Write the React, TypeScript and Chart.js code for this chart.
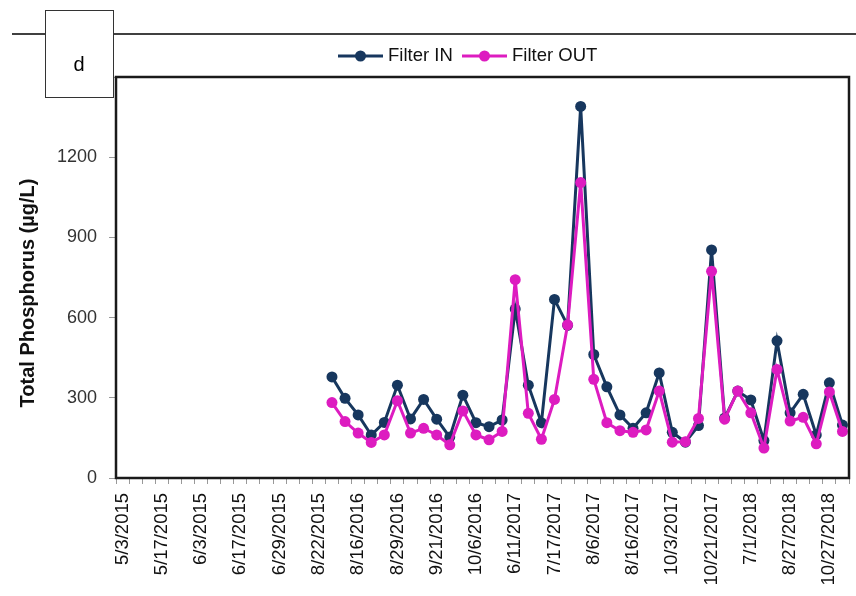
import React, { useEffect, useRef } from "react";
import { Chart, registerables } from "chart.js";

Chart.register(...registerables);

// Visible date tick labels (every 3rd category)
const dateLabels = [
  "5/3/2015", "5/17/2015", "6/3/2015", "6/17/2015", "6/29/2015", "8/22/2015",
  "8/16/2016", "8/29/2016", "9/21/2016", "10/6/2016", "6/11/2017", "7/17/2017",
  "8/6/2017", "8/16/2017", "10/3/2017", "10/21/2017", "7/1/2018", "8/27/2018",
  "10/27/2018",
];
const categoryCount = 56;
const labelEvery = 3;
const leadingEmpty = 16;

// Total phosphorus (µg/L)
const filterIn = [
  378, 298, 236, 161, 208, 347, 221, 294, 220, 153,
  310, 207, 192, 217, 632, 347, 207, 668, 571, 1390,
  462, 341, 236, 186, 244, 393, 171, 134, 196, 853,
  224, 325, 292, 140, 513, 244, 313, 161, 356, 198,
];
const filterOut = [
  282, 211, 168, 133, 161, 289, 168, 186, 161, 124,
  251, 161, 143, 174, 742, 242, 145, 294, 573, 1105,
  369, 207, 177, 171, 180, 325, 134, 136, 223, 773,
  220, 325, 244, 112, 406, 213, 227, 128, 322, 174,
];

const yMax = 1500;
const yStep = 300;
const yTitle = "Total Phosphorus (µg/L)";
const seriesNames = ["Filter IN", "Filter OUT"];
const seriesColors = ["#17375e", "#dd1cc0"];

const FONT = "'Liberation Sans', Arial, sans-serif";

export default function App() {
  const ref = useRef<HTMLCanvasElement>(null);

  useEffect(() => {
    const canvas = ref.current!;
    const categories = Array.from({ length: categoryCount }, (_, i) =>
      i % labelEvery === 0 ? dateLabels[i / labelEvery] ?? "" : ""
    );
    const pad = (arr: number[]) => {
      const out: (number | null)[] = Array(categoryCount).fill(null);
      arr.forEach((v, i) => (out[leadingEmpty + i] = v));
      return out;
    };

    const decor = {
      id: "decor",
      afterDraw(chart: any) {
        const ctx = chart.ctx as CanvasRenderingContext2D;
        const a = chart.chartArea;
        ctx.save();
        // plot border
        ctx.strokeStyle = "#1a1a1a";
        ctx.lineWidth = 2.5;
        ctx.strokeRect(a.left, a.top, a.right - a.left, a.bottom - a.top);
        // top rule line
        ctx.lineWidth = 1.5;
        ctx.strokeStyle = "#000";
        ctx.beginPath();
        ctx.moveTo(12, 34);
        ctx.lineTo(856, 34);
        ctx.stroke();
        // "d" box
        ctx.fillStyle = "#fff";
        ctx.fillRect(45, 10, 68, 87);
        ctx.lineWidth = 1;
        ctx.strokeStyle = "#333";
        ctx.strokeRect(45.5, 10.5, 68, 87);
        ctx.fillStyle = "#000";
        ctx.font = `20px ${FONT}`;
        ctx.textAlign = "center";
        ctx.textBaseline = "middle";
        ctx.fillText("d", 79, 65);
        // y-axis title
        ctx.save();
        ctx.translate(28, 293);
        ctx.rotate(-Math.PI / 2);
        ctx.font = `bold 20px ${FONT}`;
        ctx.fillStyle = "#111";
        ctx.fillText(yTitle, 0, 0);
        ctx.restore();
        // legend
        const starts = [338, 462];
        const ly = 56;
        ctx.textAlign = "left";
        ctx.font = `18.5px ${FONT}`;
        seriesNames.forEach((name, i) => {
          const x = starts[i];
          ctx.strokeStyle = seriesColors[i];
          ctx.lineWidth = 3;
          ctx.beginPath();
          ctx.moveTo(x, ly);
          ctx.lineTo(x + 45, ly);
          ctx.stroke();
          ctx.fillStyle = seriesColors[i];
          ctx.beginPath();
          ctx.arc(x + 22.5, ly, 5.5, 0, Math.PI * 2);
          ctx.fill();
          ctx.fillStyle = "#111";
          ctx.fillText(name, x + 50, ly);
        });
        ctx.restore();
      },
    };

    const chart = new Chart(canvas, {
      type: "line",
      data: {
        labels: categories,
        datasets: [
          {
            label: seriesNames[0],
            data: pad(filterIn),
            borderColor: seriesColors[0],
            backgroundColor: seriesColors[0],
            borderWidth: 3,
            pointRadius: 5.5,
            pointBorderWidth: 0,
            tension: 0,
            order: 1,
          },
          {
            label: seriesNames[1],
            data: pad(filterOut),
            borderColor: seriesColors[1],
            backgroundColor: seriesColors[1],
            borderWidth: 3,
            pointRadius: 5.5,
            pointBorderWidth: 0,
            tension: 0,
            order: 0,
          },
        ],
      },
      options: {
        responsive: false,
        animation: false,
        devicePixelRatio: 1,
        layout: { padding: { left: 0, top: 77, right: 7, bottom: 0 } },
        plugins: {
          legend: { display: false },
          tooltip: { enabled: false },
        },
        scales: {
          x: {
            type: "category",
            offset: true,
            border: { display: false },
            grid: {
              offset: true,
              drawOnChartArea: false,
              drawTicks: true,
              tickLength: 6,
              color: "#999",
              lineWidth: 1,
            },
            ticks: {
              autoSkip: false,
              maxRotation: 90,
              minRotation: 90,
              padding: 9,
              color: "#111",
              font: { family: FONT, size: 18.5 },
            },
            afterFit(scale: any) {
              scale.height = 118;
              scale.paddingLeft = 0;
              scale.paddingRight = 0;
            },
          },
          y: {
            min: 0,
            max: yMax,
            border: { display: false },
            grid: {
              drawOnChartArea: false,
              drawTicks: true,
              tickLength: 7,
              color: "#999",
            },
            ticks: {
              stepSize: yStep,
              padding: 12,
              color: "#333",
              font: { family: FONT, size: 18 },
              callback: (v: any) => (Number(v) >= yMax ? "" : String(v)),
            },
            afterFit(scale: any) {
              scale.width = 116;
              scale.paddingTop = 0;
              scale.paddingBottom = 0;
            },
          },
        },
      },
      plugins: [decor],
    });
    return () => chart.destroy();
  }, []);

  return (
    <div style={{ position: "absolute", left: 0, top: 0, width: 856, height: 596, background: "#fff" }}>
      <canvas ref={ref} width={856} height={596} style={{ display: "block" }} />
    </div>
  );
}
